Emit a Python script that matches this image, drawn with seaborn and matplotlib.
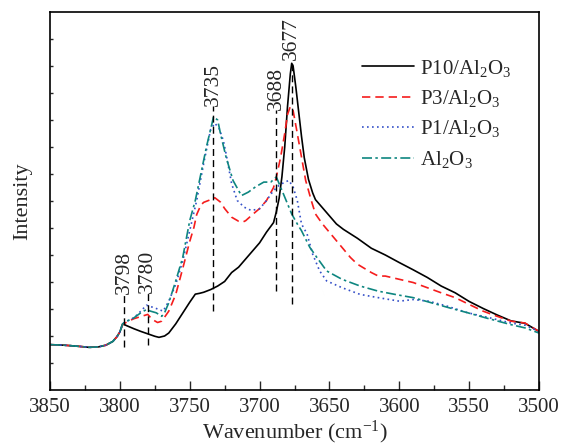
import matplotlib
matplotlib.use("Agg")
import matplotlib.pyplot as plt
import seaborn as sns
import pandas as pd

# ---------------- data ----------------
base_wn = [3850, 3840, 3830, 3822, 3815, 3810, 3805, 3802, 3800]
base_int = [1.68, 1.66, 1.62, 1.58, 1.60, 1.66, 1.80, 1.98, 2.15]

wn_p10 = base_wn + [3798, 3795, 3790, 3785, 3780, 3775, 3772, 3768, 3765, 3760, 3755, 3750,
                    3746, 3743, 3740, 3735, 3730, 3725, 3720, 3715, 3710, 3705, 3700, 3695,
                    3690, 3688, 3686, 3684, 3682, 3680, 3678, 3677, 3676, 3674, 3672, 3670,
                    3668, 3665, 3662, 3660, 3655, 3650, 3645, 3640, 3630, 3620, 3610, 3600,
                    3590, 3580, 3570, 3560, 3550, 3540, 3530, 3520, 3510, 3500]
int_p10 = base_int + [2.45, 2.38, 2.27, 2.17, 2.08, 1.99, 1.95, 2.00, 2.11, 2.45, 2.85, 3.25,
                      3.55, 3.58, 3.62, 3.72, 3.85, 4.02, 4.35, 4.55, 4.85, 5.15, 5.45, 5.85,
                      6.20, 6.60, 7.10, 7.90, 9.00, 10.50, 11.70, 12.10, 12.00, 11.20, 10.30, 9.40,
                      8.60, 7.80, 7.30, 7.05, 6.75, 6.45, 6.15, 5.95, 5.62, 5.25, 5.00, 4.72,
                      4.45, 4.17, 3.85, 3.60, 3.28, 3.02, 2.78, 2.56, 2.47, 2.17]

wn_p3 = base_wn + [3798, 3795, 3790, 3785, 3780, 3777, 3773, 3770, 3765, 3760, 3755, 3750,
                   3747, 3745, 3742, 3740, 3735, 3732, 3728, 3725, 3720, 3715, 3712, 3710,
                   3705, 3700, 3695, 3690, 3688, 3685, 3682, 3680, 3678, 3676, 3673, 3670,
                   3667, 3663, 3660, 3655, 3650, 3645, 3640, 3635, 3630, 3620, 3615, 3610,
                   3600, 3590, 3580, 3570, 3560, 3550, 3540, 3530, 3520, 3510, 3500]
int_p3 = base_int + [2.42, 2.52, 2.64, 2.72, 2.80, 2.62, 2.50, 2.55, 2.92, 3.54, 4.50, 5.50,
                     6.02, 6.50, 6.85, 6.95, 7.05, 7.12, 6.96, 6.72, 6.40, 6.25, 6.22, 6.27,
                     6.50, 6.72, 7.02, 7.50, 7.89, 8.60, 9.50, 10.20, 10.50, 10.35, 9.50, 8.63,
                     7.76, 7.02, 6.52, 6.15, 5.84, 5.53, 5.22, 4.91, 4.66, 4.35, 4.22, 4.22,
                     4.10, 3.98, 3.79, 3.60, 3.42, 3.17, 2.92, 2.73, 2.55, 2.48, 2.17]

wn_p1 = base_wn + [3798, 3795, 3790, 3785, 3781, 3775, 3769, 3765, 3760, 3755, 3750, 3745,
                   3740, 3735, 3732, 3729, 3726, 3724, 3720, 3716, 3711, 3706, 3700, 3695,
                   3690, 3686, 3682, 3679, 3676, 3673, 3670, 3666, 3662, 3657, 3652, 3641,
                   3628, 3615, 3600, 3590, 3579, 3566, 3551, 3535, 3520, 3510, 3500]
int_p1 = base_int + [2.45, 2.55, 2.67, 2.92, 3.14, 3.04, 2.92, 3.29, 3.91, 4.78, 5.90, 7.02,
                     8.39, 9.65, 9.88, 9.69, 9.25, 8.76, 7.64, 7.02, 6.77, 6.65, 6.71, 7.02,
                     7.39, 7.58, 7.70, 7.76, 7.52, 7.02, 6.15, 5.78, 5.03, 4.41, 4.04, 3.79,
                     3.54, 3.42, 3.29, 3.35, 3.29, 3.11, 2.86, 2.67, 2.48, 2.40, 2.17]

wn_al = base_wn + [3798, 3795, 3790, 3785, 3781, 3778, 3774, 3770, 3768, 3765, 3760, 3755,
                   3750, 3746, 3742, 3738, 3734, 3733, 3730, 3728, 3724, 3719, 3713, 3708,
                   3703, 3697, 3692, 3688, 3685, 3681, 3677, 3673, 3670, 3664, 3659, 3652,
                   3641, 3628, 3615, 3603, 3590, 3577, 3564, 3551, 3538, 3520, 3510, 3500]
int_al = base_int + [2.45, 2.55, 2.67, 2.86, 2.98, 2.92, 2.86, 2.73, 2.86, 3.23, 4.04, 4.91,
                     6.27, 7.02, 8.01, 9.01, 9.88, 10.12, 10.00, 9.50, 8.63, 7.76, 7.20, 7.33,
                     7.52, 7.70, 7.70, 7.89, 7.52, 7.02, 6.52, 6.15, 5.90, 5.28, 4.91, 4.41,
                     4.10, 3.85, 3.66, 3.54, 3.42, 3.23, 3.04, 2.86, 2.67, 2.42, 2.30, 2.11]

series_names = ["P10/Al$_2$O$_3$", "P3/Al$_2$O$_3$", "P1/Al$_2$O$_3$", "Al$_2$O$_3$"]

# marker lines (position, label, bottom, top)
peak_pos = [3797, 3780, 3733, 3688, 3677]
peak_labels = ["3798", "3780", "3735", "3688", "3677"]
peak_bottom = [1.61, 1.68, 2.92, 3.66, 3.17]
peak_top = [3.54, 3.60, 10.52, 10.37, 12.24]

x_ticks = [3850, 3800, 3750, 3700, 3650, 3600, 3550, 3500]

# ---------------- style ----------------
sns.set_theme(style="ticks")
plt.rcParams["font.family"] = ["Liberation Serif", "DejaVu Serif"]
plt.rcParams["mathtext.fontset"] = "custom"
plt.rcParams["mathtext.rm"] = "Liberation Serif"
plt.rcParams["mathtext.it"] = "Liberation Serif:italic"
plt.rcParams["mathtext.bf"] = "Liberation Serif:bold"

fig = plt.figure(figsize=(5.65, 4.45), dpi=100)
ax = fig.add_axes([50 / 565, 1 - 390 / 445, 489 / 565, 378 / 445])

styles = [
    dict(color="#000000", linestyle="-"),
    dict(color="#f51d1d", linestyle=(0, (5, 3))),
    dict(color="#3550c8", linestyle=(0, (1, 2))),
    dict(color="#0e8680", linestyle=(0, (6, 2, 1.5, 2))),
]
data = [(wn_p10, int_p10), (wn_p3, int_p3), (wn_p1, int_p1), (wn_al, int_al)]

for (xs, ys), name, st in zip(data, series_names, styles):
    df = pd.DataFrame({"wn": xs, "I": ys})
    sns.lineplot(data=df, x="wn", y="I", ax=ax, sort=False, label=name,
                 linewidth=1.2, **st)

for pos, lab, b, t in zip(peak_pos, peak_labels, peak_bottom, peak_top):
    ax.plot([pos, pos], [b, t], color="black", linewidth=1.0,
            linestyle=(0, (5, 3)))
    ax.text(pos, t, lab, rotation=90, ha="center", va="bottom", fontsize=15.5)

ax.set_xlim(3850, 3500)
ax.set_ylim(0, 14)
ax.set_xticks(x_ticks)
ax.set_xticks([3825, 3775, 3725, 3675, 3625, 3575, 3525], minor=True)
ax.set_yticks(range(1, 14))
ax.set_yticklabels([])
ax.tick_params(axis="x", which="major", direction="in", length=6.5, width=1.0,
               labelsize=15, pad=6)
ax.tick_params(axis="x", which="minor", direction="in", length=3.5, width=1.0)
ax.tick_params(axis="y", which="major", direction="in", length=2.0, width=1.0)
for s in ax.spines.values():
    s.set_linewidth(1.2)
    s.set_color("black")

ax.set_xlabel("Wavenumber (cm$^{-1}$)", fontsize=16, labelpad=1)
ax.set_ylabel("Intensity", fontsize=16, labelpad=9)

leg = ax.legend(loc="upper left", bbox_to_anchor=(0.638, 0.879), frameon=False,
                fontsize=15, handlelength=2.5, handletextpad=0.3,
                labelspacing=0.45, borderpad=0, borderaxespad=0)

fig.savefig("out.png", dpi=100)
